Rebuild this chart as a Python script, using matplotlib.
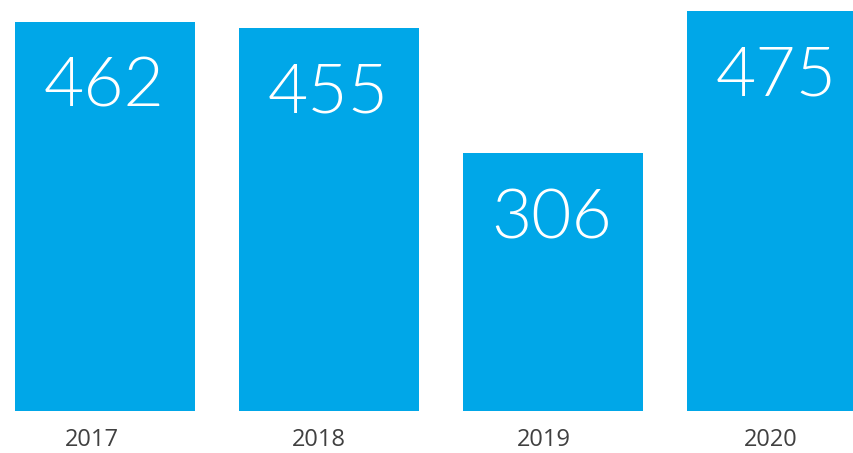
import matplotlib
matplotlib.use("Agg")
import matplotlib.pyplot as plt

# values
years = ["2017", "2018", "2019", "2020"]
counts = [462, 455, 306, 475]

BAR_COLOR = "#00a7e8"
TEXT_COLOR = "#404040"

fig = plt.figure(figsize=(8.54, 4.53), dpi=100)
# axes spans the whole width, bars sit on y=411px from top
ax = fig.add_axes([0, 42 / 453, 1, 411 / 453])

x = list(range(len(years)))
ax.bar(x, counts, width=180 / 224, color=BAR_COLOR)

ax.set_xlim(-105 / 224, (854 - 105) / 224)
ax.set_ylim(0, 411 / 0.8425)
ax.axis("off")

# year labels are drawn a bit left of the bar centres in the original
year_shift = [-13, -10, -9, -6]

for i, v in enumerate(counts):
    # big number inside the top of the bar
    ax.annotate(str(v), (i, v), xytext=(-1, -66), textcoords="offset pixels",
                ha="center", va="center", color="white",
                fontsize=50, family="Lato", fontweight=300)
    # year under the bar
    ax.annotate(years[i], (i, 0), xytext=(year_shift[i], -29), textcoords="offset pixels",
                ha="center", va="center", color=TEXT_COLOR,
                fontsize=17, family="Open Sans")

fig.savefig("out.png", dpi=100)
